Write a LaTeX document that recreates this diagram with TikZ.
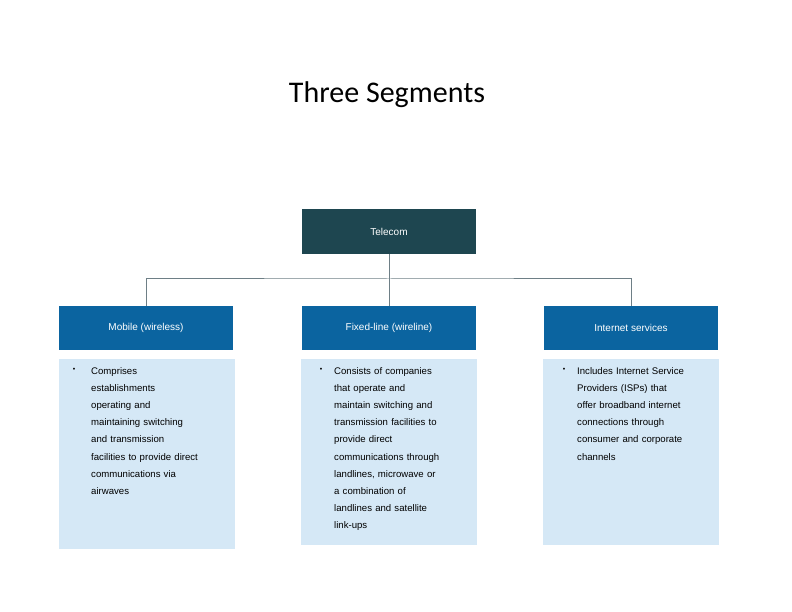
\documentclass[tikz,border=0pt]{standalone}
\usepackage{fontspec}
\setmainfont{Liberation Sans}
\newfontfamily\titlefont{Carlito}
\definecolor{dark}{HTML}{1E4650}
\definecolor{hdr}{HTML}{0B64A0}
\definecolor{body}{HTML}{D5E8F6}
\definecolor{conn}{HTML}{6E7F86}
\begin{document}
\begin{tikzpicture}[x=1pt,y=-1pt,
  top/.style={fill=dark,text=white,minimum width=174pt,minimum height=45pt,inner sep=0pt,font=\fontsize{10}{12}\selectfont},
  head/.style={fill=hdr,text=white,minimum width=174pt,minimum height=44pt,inner sep=0pt,font=\fontsize{10}{12}\selectfont},
  bodybox/.style={fill=body,minimum width=176pt,inner sep=0pt,anchor=north},
  btext/.style={anchor=north west,align=left,inner sep=0pt,font=\fontsize{9.6}{17.2}\selectfont,text width=140pt},
  bul/.style={anchor=north,inner sep=0pt,font=\fontsize{7}{8}\selectfont},
  line/.style={draw=conn,line width=1pt}]
\useasboundingbox (0,0) rectangle (792,612);
\node[font=\titlefont\fontsize{30}{34}\selectfont] (title) at (387,95) {Three Segments};
\node[top] (tel) at (389,231.5) {Telecom};
\node[head] (h1) at (146,328) {Mobile (wireless)};
\node[head] (h2) at (389,328) {Fixed-line (wireline)};
\node[head] (h3) at (631,328) {Internet services};
\node[bodybox,minimum height=190pt] (b1) at (147,359) {};
\node[bodybox,minimum height=186pt] (b2) at (389,359) {};
\node[bodybox,minimum height=186pt] (b3) at (631,359) {};
\coordinate (j) at (389,279);
\draw[line] (tel.south) -- (h2.north);
\draw[line] (h1.north) |- (j) -| (h3.north);
\node[bul] (d1) at (74,368) {\textbullet};
\node[bul] (d2) at (321,368) {\textbullet};
\node[bul] (d3) at (564,368) {\textbullet};
\node[btext] (t1) at (91,367) {Comprises\\establishments\\operating and\\maintaining switching\\and transmission\\facilities to provide direct\\communications via\\airwaves};
\node[btext] (t2) at (334,367) {Consists of companies\\that operate and\\maintain switching and\\transmission facilities to\\provide direct\\communications through\\landlines, microwave or\\a combination of\\landlines and satellite\\link-ups};
\node[btext] (t3) at (577,367) {Includes Internet Service\\Providers (ISPs) that\\offer broadband internet\\connections through\\consumer and corporate\\channels};
\end{tikzpicture}
\end{document}
